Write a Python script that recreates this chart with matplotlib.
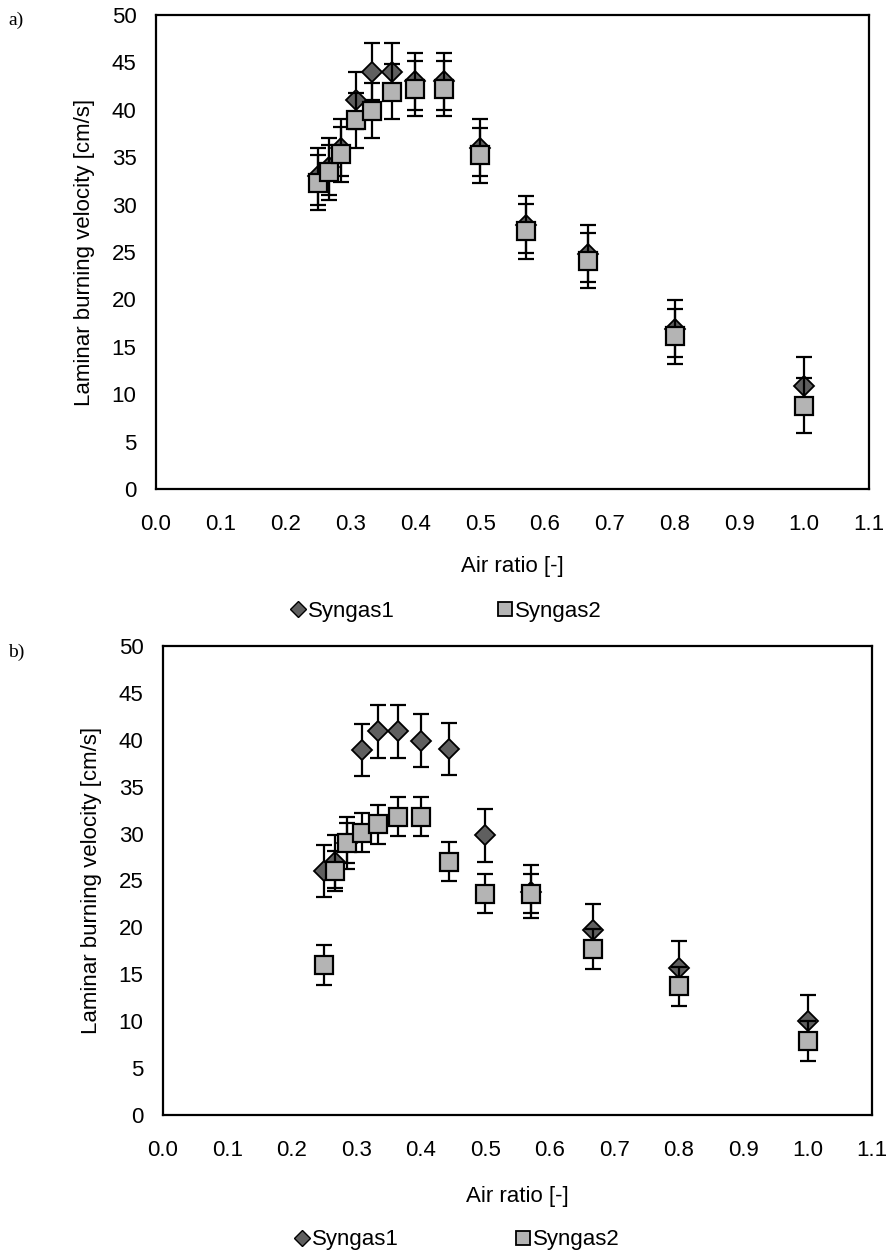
import matplotlib
matplotlib.use("Agg")
import matplotlib.pyplot as plt
from matplotlib.lines import Line2D

plt.rcParams['font.family'] = ['Liberation Sans', 'DejaVu Sans']

# ---- data ----
air_ratio = [0.25, 0.267, 0.286, 0.308, 0.333, 0.364, 0.40, 0.444, 0.50, 0.571, 0.667, 0.80, 1.00]

a_syngas1 = [33.0, 34.0, 36.0, 41.0, 44.0, 44.0, 43.0, 43.0, 36.0, 27.9, 24.8, 16.9, 10.9]
a_syngas2 = [32.3, 33.4, 35.3, 38.9, 39.9, 41.9, 42.2, 42.2, 35.2, 27.2, 24.1, 16.1, 8.8]
a_err1 = 3.0
a_err2 = 2.9

b_syngas1 = [26.0, 27.0, 29.0, 38.9, 40.9, 40.9, 39.9, 39.0, 29.8, 23.8, 19.7, 15.7, 10.0]
b_syngas2 = [16.0, 26.0, 29.0, 30.1, 31.0, 31.8, 31.8, 27.0, 23.6, 23.6, 17.7, 13.7, 7.9]
b_err1 = 2.8
b_err2 = 2.1

x_ticks = [0.0, 0.1, 0.2, 0.3, 0.4, 0.5, 0.6, 0.7, 0.8, 0.9, 1.0, 1.1]
y_ticks = [0, 5, 10, 15, 20, 25, 30, 35, 40, 45, 50]
series_names = ['Syngas1', 'Syngas2']
panel_labels = ['a)', 'b)']

W, H = 890, 1256
fig = plt.figure(figsize=(W / 100, H / 100), dpi=100)

c1 = '#5f5f5f'
c2 = '#b4b4b4'
FS = 16


def px_axes(left, top, right, bottom):
    return fig.add_axes([left / W, 1 - bottom / H, (right - left) / W, (bottom - top) / H])


def draw_panel(ax, y1, y2, e1, e2, xlabelpad):
    ax.errorbar(air_ratio, y1, yerr=e1, fmt='none', ecolor='black', elinewidth=1.6,
                capsize=6, capthick=1.6, zorder=2)
    ax.plot(air_ratio, y1, linestyle='none', marker='D', markersize=10.5,
            markerfacecolor=c1, markeredgecolor='black', markeredgewidth=1.3, zorder=3)
    ax.errorbar(air_ratio, y2, yerr=e2, fmt='none', ecolor='black', elinewidth=1.6,
                capsize=6, capthick=1.6, zorder=4)
    ax.plot(air_ratio, y2, linestyle='none', marker='s', markersize=13,
            markerfacecolor=c2, markeredgecolor='black', markeredgewidth=1.6, zorder=5)
    ax.set_xlim(0, 1.1)
    ax.set_ylim(0, 50)
    ax.set_xticks(x_ticks)
    ax.set_xticklabels([f'{v:.1f}' for v in x_ticks])
    ax.set_yticks(y_ticks)
    ax.tick_params(axis='both', length=0, labelsize=FS)
    ax.tick_params(axis='x', pad=18)
    ax.tick_params(axis='y', pad=14)
    for sp in ax.spines.values():
        sp.set_linewidth(1.6)
        sp.set_color('black')
    ax.set_xlabel('Air ratio [-]', fontsize=FS, labelpad=xlabelpad)
    ax.set_ylabel('Laminar burning velocity [cm/s]', fontsize=FS, labelpad=12)


ax1 = px_axes(156, 15, 869, 489)
draw_panel(ax1, a_syngas1, a_syngas2, a_err1, a_err2, 15)
ax2 = px_axes(163, 646, 872, 1115)
draw_panel(ax2, b_syngas1, b_syngas2, b_err1, b_err2, 18)

handles = [
    Line2D([], [], linestyle='none', marker='D', markersize=8.5, markerfacecolor=c1,
           markeredgecolor='black', markeredgewidth=1.0),
    Line2D([], [], linestyle='none', marker='s', markersize=10.5, markerfacecolor=c2,
           markeredgecolor='black', markeredgewidth=1.3),
]
for (xcen, ycen, csp) in ((446, 611, 4.6), (457, 1240, 5.2)):
    fig.legend(handles, series_names, loc='center', bbox_to_anchor=(xcen / W, 1 - ycen / H),
               ncol=2, frameon=False, fontsize=FS, handlelength=0.7, handletextpad=0.1,
               columnspacing=csp)

fig.text(8 / W, 1 - 20 / H, panel_labels[0], fontsize=14, family='Liberation Serif', va='center', ha='left')
fig.text(8 / W, 1 - 652 / H, panel_labels[1], fontsize=14, family='Liberation Serif', va='center', ha='left')

fig.savefig('out.png', dpi=100)
